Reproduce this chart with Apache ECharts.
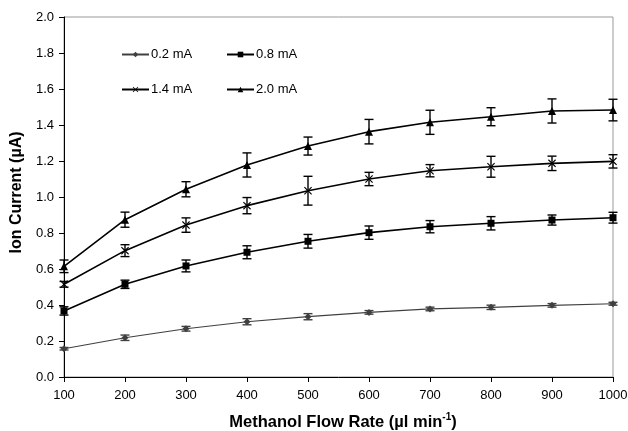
<!DOCTYPE html>
<html>
<head>
<meta charset="utf-8">
<script src="https://cdn.jsdelivr.net/npm/echarts@6/dist/echarts.min.js"></script>
<style>
html,body{margin:0;padding:0;background:#fff;}
#chart{width:628px;height:431px;}
</style>
</head>
<body>
<div id="chart"></div>
<script>
// flow rates (ul/min)
var flowRates = [100, 200, 300, 400, 500, 600, 700, 800, 900, 1000];
var seriesNames = ['0.2 mA', '0.8 mA', '1.4 mA', '2.0 mA'];
// ion current values (uA)
var cur02 = [0.157, 0.218, 0.268, 0.307, 0.335, 0.359, 0.378, 0.387, 0.398, 0.407];
var cur08 = [0.367, 0.515, 0.617, 0.693, 0.754, 0.802, 0.835, 0.854, 0.872, 0.885];
var cur14 = [0.515, 0.702, 0.844, 0.952, 1.035, 1.100, 1.146, 1.168, 1.187, 1.198];
var cur20 = [0.615, 0.874, 1.043, 1.178, 1.283, 1.363, 1.415, 1.446, 1.478, 1.483];
// error bar half-heights
var err02 = [0.007, 0.015, 0.013, 0.017, 0.017, 0.010, 0.010, 0.012, 0.010, 0.008];
var err08 = [0.023, 0.023, 0.033, 0.036, 0.038, 0.037, 0.034, 0.037, 0.028, 0.030];
var err14 = [0.016, 0.033, 0.040, 0.045, 0.080, 0.037, 0.034, 0.058, 0.040, 0.037];
var err20 = [0.035, 0.042, 0.042, 0.067, 0.050, 0.068, 0.067, 0.050, 0.067, 0.060];

var values = [cur02, cur08, cur14, cur20];
var errors = [err02, err08, err14, err20];
var colors = ['#404040', '#000', '#000', '#000'];
var symbols = ['diamond', 'rect',
	'path://M0,1L1,0L5,4L9,0L10,1L6,5L10,9L9,10L5,6L1,10L0,9L4,5Z',
	'triangle'];
var symbolSizes = [7, 7, 8, 8];

var chart = echarts.init(document.getElementById('chart'));

function pairs(v){
	var out = [];
	for (var i = 0; i < flowRates.length; i++) out.push([flowRates[i], v[i]]);
	return out;
}
function bars(v, e){
	var out = [];
	for (var i = 0; i < flowRates.length; i++) out.push([flowRates[i], v[i] - e[i], v[i] + e[i]]);
	return out;
}

var series = [];
for (var k = 0; k < seriesNames.length; k++) {
	series.push({
		name: seriesNames[k],
		type: 'line',
		data: pairs(values[k]),
		symbol: symbols[k],
		symbolSize: symbolSizes[k],
		showAllSymbol: true,
		z: 3,
		lineStyle: {color: colors[k], width: k == 0 ? 1.2 : 1.6},
		itemStyle: {color: colors[k]},
		emphasis: {disabled: true}
	});
	(function(col){
		series.push({
			type: 'custom',
			data: bars(values[k], errors[k]),
			z: 4,
			silent: true,
			renderItem: function(params, api){
				var lo = api.coord([api.value(0), api.value(1)]);
				var hi = api.coord([api.value(0), api.value(2)]);
				var w = 4.5;
				var st = {stroke: col, lineWidth: 1.4};
				return {type: 'group', children: [
					{type: 'line', shape: {x1: lo[0], y1: lo[1], x2: hi[0], y2: hi[1]}, style: st},
					{type: 'line', shape: {x1: lo[0] - w, y1: lo[1], x2: lo[0] + w, y2: lo[1]}, style: st},
					{type: 'line', shape: {x1: hi[0] - w, y1: hi[1], x2: hi[0] + w, y2: hi[1]}, style: st}
				]};
			}
		});
	})(colors[k]);
}

var legendPos = [[121, 48], [226, 48], [121, 83], [226, 83]];
var legends = [];
for (var j = 0; j < seriesNames.length; j++) {
	legends.push({
		data: [seriesNames[j]],
		left: legendPos[j][0],
		top: legendPos[j][1],
		padding: 0,
		itemWidth: 27,
		itemHeight: 7,
		itemGap: 0,
		selectedMode: false,
		textStyle: {fontFamily: 'Liberation Sans', fontSize: 13, color: '#000', padding: [0, 0, 0, -3]}
	});
}

var option = {
	animation: false,
	backgroundColor: '#fff',
	textStyle: {fontFamily: 'Liberation Sans'},
	legend: legends,
	grid: {
		left: 64, right: 15, top: 17, bottom: 54,
		outerBoundsMode: 'none',
		show: true, borderColor: '#999', borderWidth: 1
	},
	xAxis: {
		type: 'value',
		min: 100, max: 1000, interval: 100,
		name: '{a|Methanol Flow Rate (µl min}{s|-1}{a|)}',
		nameLocation: 'middle',
		nameGap: 35,
		nameTextStyle: {
			padding: [0, 0, 0, 9],
			rich: {
				a: {fontFamily: 'Liberation Sans', fontSize: 16.5, fontWeight: 'bold', color: '#000'},
				s: {fontFamily: 'Liberation Sans', fontSize: 10, fontWeight: 'bold', color: '#000', padding: [0, 0, 10, 0]}
			}
		},
		splitLine: {show: false},
		axisLine: {show: true, onZero: false, lineStyle: {color: '#000', width: 1}},
		axisTick: {show: true, length: 5, lineStyle: {color: '#000'}},
		axisLabel: {
			fontFamily: 'Liberation Sans', fontSize: 13, color: '#000', margin: 12,
			formatter: function(v){ return String(v); }
		}
	},
	yAxis: {
		type: 'value',
		min: 0, max: 2, interval: 0.2,
		name: 'Ion Current (µA)',
		nameLocation: 'middle',
		nameGap: 36,
		nameTextStyle: {fontFamily: 'Liberation Sans', fontSize: 16, fontWeight: 'bold', color: '#000', padding: [0, 0, 0, 9]},
		splitLine: {show: false},
		axisLine: {show: true, onZero: false, lineStyle: {color: '#000', width: 1}},
		axisTick: {show: true, length: 5, lineStyle: {color: '#000'}},
		axisLabel: {
			fontFamily: 'Liberation Sans', fontSize: 13, color: '#000', margin: 10,
			formatter: function(v){ return v.toFixed(1); }
		}
	},
	series: series
};
chart.setOption(option);
</script>
</body>
</html>
